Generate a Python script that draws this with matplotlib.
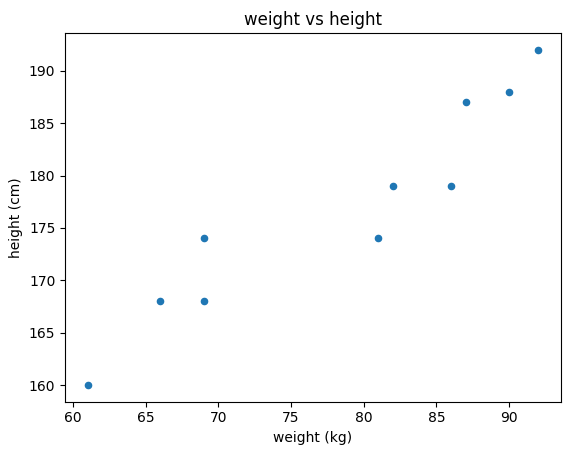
import matplotlib
matplotlib.use("Agg")
import matplotlib.pyplot as plt
import pandas as pd

weight = [61, 66, 69, 69, 81, 82, 86, 87, 90, 92]
height = [160, 168, 168, 174, 174, 179, 179, 187, 188, 192]

df = pd.DataFrame({"weight": weight, "height": height})

fig = plt.figure(figsize=(5.71, 4.55), dpi=100)
ax = fig.add_axes([0.114, 0.117, 0.868, 0.810])
df.plot.scatter(x="weight", y="height", ax=ax, color="#1f77b4")
ax.set_title("weight vs height")
ax.set_xlabel("weight (kg)")
ax.set_ylabel("height (cm)")

fig.savefig("out.png", dpi=100)
